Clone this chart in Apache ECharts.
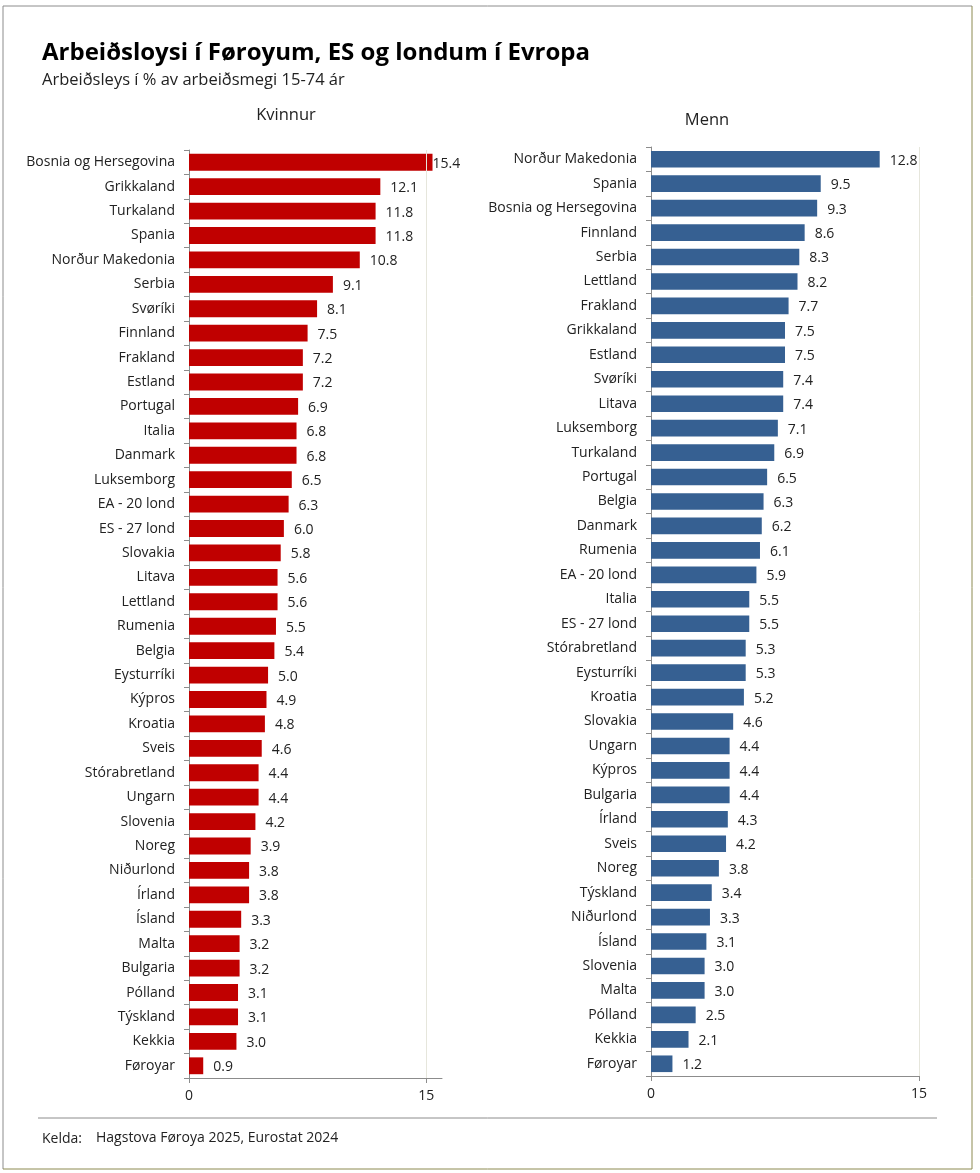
<!DOCTYPE html>
<html><head><meta charset="utf-8">
<script src="https://cdn.jsdelivr.net/npm/echarts@6/dist/echarts.min.js"></script>
<style>html,body{margin:0;padding:0;background:#fff}#c{width:980px;height:1173px}</style>
</head><body><div id="c"></div>
<script>
const womenCategories = ["Bosnia og Hersegovina","Grikkaland","Turkaland","Spania","Norður Makedonia","Serbia","Svøríki","Finnland","Frakland","Estland","Portugal","Italia","Danmark","Luksemborg","EA - 20 lond","ES - 27 lond","Slovakia","Litava","Lettland","Rumenia","Belgia","Eysturríki","Kýpros","Kroatia","Sveis","Stórabretland","Ungarn","Slovenia","Noreg","Niðurlond","Írland","Ísland","Malta","Bulgaria","Pólland","Týskland","Kekkia","Føroyar"];
const womenValues = [15.4,12.1,11.8,11.8,10.8,9.1,8.1,7.5,7.2,7.2,6.9,6.8,6.8,6.5,6.3,6.0,5.8,5.6,5.6,5.5,5.4,5.0,4.9,4.8,4.6,4.4,4.4,4.2,3.9,3.8,3.8,3.3,3.2,3.2,3.1,3.1,3.0,0.9];
const menCategories = ["Norður Makedonia","Spania","Bosnia og Hersegovina","Finnland","Serbia","Lettland","Frakland","Grikkaland","Estland","Svøríki","Litava","Luksemborg","Turkaland","Portugal","Belgia","Danmark","Rumenia","EA - 20 lond","Italia","ES - 27 lond","Stórabretland","Eysturríki","Kroatia","Slovakia","Ungarn","Kýpros","Bulgaria","Írland","Sveis","Noreg","Týskland","Niðurlond","Ísland","Slovenia","Malta","Pólland","Kekkia","Føroyar"];
const menValues = [12.8,9.5,9.3,8.6,8.3,8.2,7.7,7.5,7.5,7.4,7.4,7.1,6.9,6.5,6.3,6.2,6.1,5.9,5.5,5.5,5.3,5.3,5.2,4.6,4.4,4.4,4.4,4.3,4.2,3.8,3.4,3.3,3.1,3.0,3.0,2.5,2.1,1.2];
const xTicks = [0, 15];

const FONT = '"Open Sans", "Noto Sans", sans-serif';
const chart = echarts.init(document.getElementById('c'), null, {renderer: 'canvas'});

function xAxisCfg(grid, max) {
  return {
    type: 'value', gridIndex: grid, min: 0, max: max, interval: 15,
    axisLine: {show: true, lineStyle: {color: '#8c8c8c', width: 1}},
    axisTick: {show: true, length: 5, lineStyle: {color: '#8c8c8c'}, customValues: xTicks},
    axisLabel: {color: '#222', fontSize: 14, fontFamily: FONT, margin: 11, customValues: xTicks},
    splitLine: {show: false}
  };
}
function yAxisCfg(grid, cats) {
  return {
    type: 'category', gridIndex: grid, data: cats, inverse: true,
    axisLine: {show: true, lineStyle: {color: '#8c8c8c', width: 1}},
    axisTick: {show: true, length: 5, lineStyle: {color: '#8c8c8c'}},
    axisLabel: {color: '#222', fontSize: 14, fontFamily: FONT, margin: 14}
  };
}
function seriesCfg(idx, values, color, catGap) {
  const mx = Math.max.apply(null, values);
  return {
    type: 'bar', xAxisIndex: idx, yAxisIndex: idx,
    data: values.map(v => v === mx && idx === 0 ? {value: v, label: {distance: 0}} : v),
    barCategoryGap: catGap,
    itemStyle: {color: color},
    label: {show: true, position: 'right', distance: 10, offset: [0, 1.5], color: '#222', fontSize: 14, fontFamily: FONT,
      formatter: p => Number(p.value).toFixed(1)},
    markLine: {silent: true, symbol: 'none', label: {show: false},
      lineStyle: {color: '#e6e6dc', type: 'solid', width: 1},
      data: [{xAxis: 15}]},
    animation: false
  };
}

chart.setOption({
  animation: false,
  textStyle: {fontFamily: FONT},
  title: [
    {text: 'Arbeiðsloysi í Føroyum, ES og londum í Evropa', left: 42, top: 41, padding: 0,
     textStyle: {fontSize: 24, fontWeight: 'bold', color: '#000', fontFamily: FONT}},
    {text: 'Arbeiðsleys í % av arbeiðsmegi 15-74 ár', left: 42, top: 72, padding: 0,
     textStyle: {fontSize: 16.5, fontWeight: 'normal', color: '#222', fontFamily: FONT}},
    {text: 'Kvinnur', left: 286, top: 107, textAlign: 'center', padding: 0,
     textStyle: {fontSize: 16.5, fontWeight: 'normal', color: '#222', fontFamily: FONT}},
    {text: 'Menn', left: 707, top: 112, textAlign: 'center', padding: 0,
     textStyle: {fontSize: 16.5, fontWeight: 'normal', color: '#222', fontFamily: FONT}}
  ],
  grid: [
    {left: 189, top: 150, width: 253, height: 928, containLabel: false},
    {left: 651, top: 147, width: 268, height: 929, containLabel: false}
  ],
  xAxis: [xAxisCfg(0, 16), xAxisCfg(1, 15)],
  yAxis: [yAxisCfg(0, womenCategories), yAxisCfg(1, menCategories)],
  series: [seriesCfg(0, womenValues, '#c00000', '31%'), seriesCfg(1, menValues, '#366092', '32%')],
  graphic: [
    {type: 'line', shape: {x1: 3, y1: 6, x2: 972, y2: 6}, style: {stroke: '#8c8c8c', lineWidth: 1}},
    {type: 'line', shape: {x1: 3, y1: 6, x2: 3, y2: 1169}, style: {stroke: '#8c8c8c', lineWidth: 1}},
    {type: 'line', shape: {x1: 972, y1: 6, x2: 972, y2: 1169}, style: {stroke: '#8c8a50', lineWidth: 1}},
    {type: 'line', shape: {x1: 3, y1: 1169, x2: 972, y2: 1169}, style: {stroke: '#8c8a50', lineWidth: 1}},
    {type: 'line', shape: {x1: 38, y1: 1118, x2: 937, y2: 1118}, style: {stroke: '#8c8c8c', lineWidth: 1}},
    {type: 'text', left: 42, top: 1132, style: {text: 'Kelda:', fill: '#222', font: '14px ' + FONT}},
    {type: 'text', left: 96, top: 1131, style: {text: 'Hagstova Føroya 2025, Eurostat 2024', fill: '#222', font: '14px ' + FONT}}
  ]
});
</script></body></html>
